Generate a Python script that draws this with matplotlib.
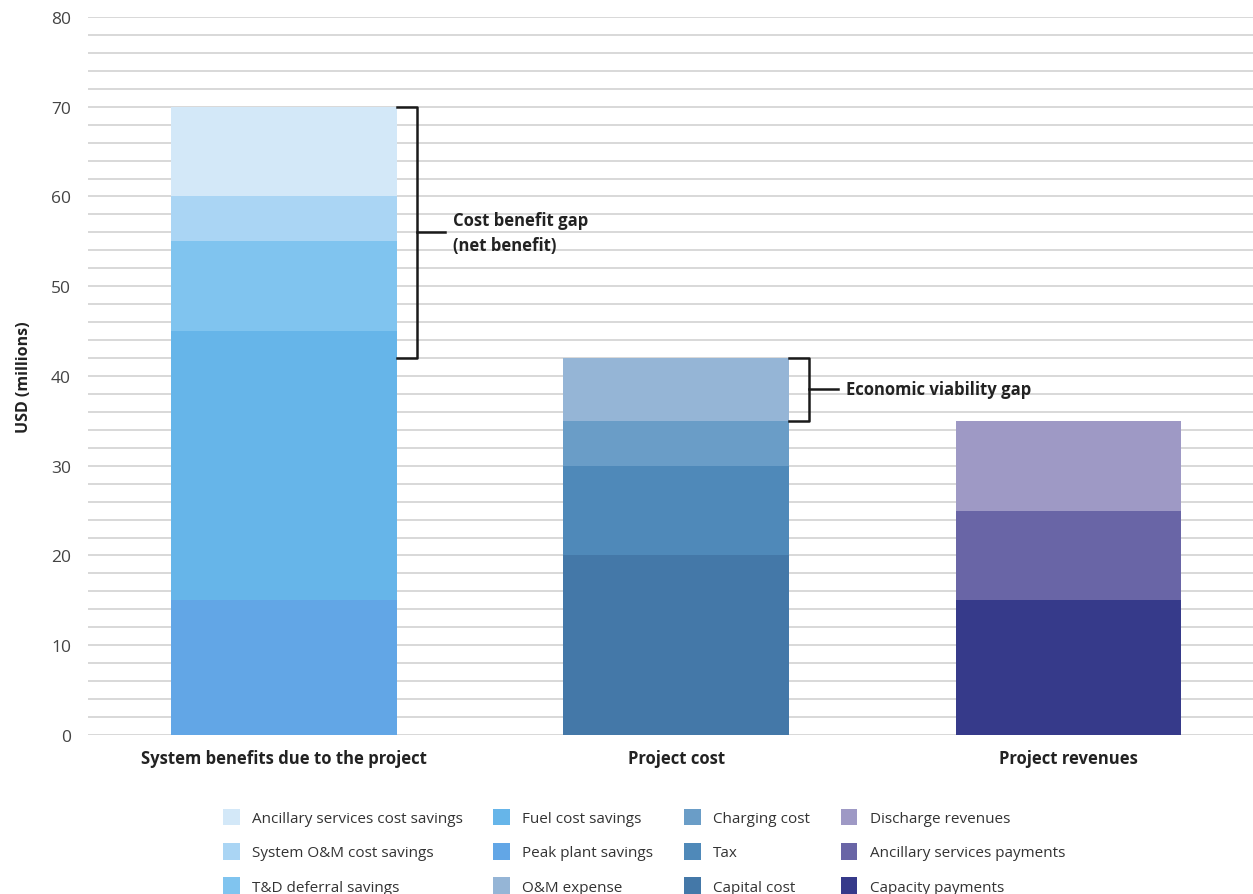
import matplotlib.pyplot as plt
from matplotlib.patches import Patch

plt.rcParams['font.family'] = ['Open Sans', 'DejaVu Sans']

categories = ['System benefits due to the project', 'Project cost', 'Project revenues']

# segments per bar, bottom to top: (label, value, colour)
benefit_segments = [
    ('Peak plant savings', 15, '#62a6e6'),
    ('Fuel cost savings', 30, '#66b5e9'),
    ('T&D deferral savings', 10, '#80c4ef'),
    ('System O&M cost savings', 5, '#aad5f4'),
    ('Ancillary services cost savings', 10, '#d3e8f8'),
]
cost_segments = [
    ('Capital cost', 20, '#4478a8'),
    ('Tax', 10, '#4f89b9'),
    ('Charging cost', 5, '#6a9dc7'),
    ('O&M expense', 7, '#95b5d6'),
]
revenue_segments = [
    ('Capacity payments', 15, '#363a8a'),
    ('Ancillary services payments', 10, '#6965a6'),
    ('Discharge revenues', 10, '#9e99c5'),
]

legend_order = [
    'Ancillary services cost savings', 'System O&M cost savings', 'T&D deferral savings',
    'Fuel cost savings', 'Peak plant savings', 'O&M expense',
    'Charging cost', 'Tax', 'Capital cost',
    'Discharge revenues', 'Ancillary services payments', 'Capacity payments',
]

fig = plt.figure(figsize=(12.53, 8.95), dpi=100)
ax = fig.add_axes([0.070, 0.1777, 0.930, 0.8022])

width = 0.575
colours = {}
totals = []
for i, segs in enumerate([benefit_segments, cost_segments, revenue_segments]):
    bottom = 0
    for label, val, col in segs:
        ax.bar(i, val, width=width, bottom=bottom, color=col, zorder=2)
        colours[label] = col
        bottom += val
    totals.append(bottom)

ax.set_xlim(-0.5, 2.47)
ax.set_ylim(0, 80)
ax.set_yticks(range(0, 81, 10))
ax.set_yticks(range(0, 81, 2), minor=True)
ax.grid(axis='y', which='both', color='#d6d6d6', linewidth=1.3, zorder=0)
for s in ax.spines.values():
    s.set_visible(False)
ax.tick_params(axis='y', which='both', length=0, labelsize=12.5, labelcolor='#444444', pad=12)
ax.tick_params(axis='x', length=0, pad=10)
ax.set_xticks(range(len(categories)))
ax.set_xticklabels(categories, fontsize=12, fontweight='bold', color='#222222')
ax.set_ylabel('USD (millions)', fontsize=11.5, fontweight='bold', color='#222222', labelpad=14)


def bracket(x_edge, lo, hi, text):
    x0 = x_edge
    x1 = x_edge + 0.052
    x2 = x1 + 0.072
    ax.plot([x0, x1, x1, x0], [hi, hi, lo, lo], color='#1a1a1a', lw=1.8, clip_on=False, zorder=3)
    mid = (lo + hi) / 2
    ax.plot([x1, x2], [mid, mid], color='#1a1a1a', lw=1.8, zorder=3)
    ax.text(x2 + 0.02, mid, text, fontsize=12, fontweight='bold', color='#222222',
            va='center', ha='left', linespacing=1.5)


bracket(0 + width / 2, totals[1], totals[0], 'Cost benefit gap\n(net benefit)')
bracket(1 + width / 2, totals[2], totals[1], 'Economic viability gap')

handles = [Patch(facecolor=colours[l], edgecolor='none', label=l) for l in legend_order]
fig.legend(handles=handles, ncol=4, loc='lower left', bbox_to_anchor=(0.167, -0.016),
           frameon=False, fontsize=11, handlelength=1.1, handleheight=1.3,
           handletextpad=0.8, columnspacing=2.0, labelspacing=1.1, labelcolor='#333333')

fig.savefig('out.png', dpi=100)
